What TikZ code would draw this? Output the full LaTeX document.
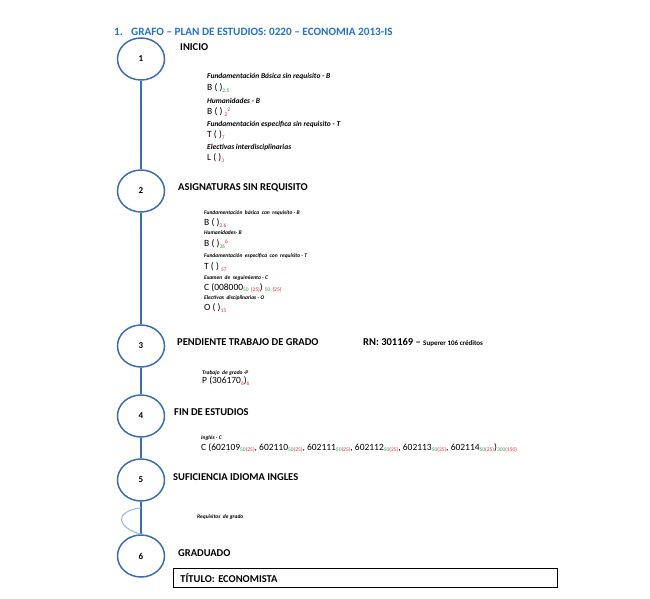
\documentclass[tikz,border=0pt]{standalone}
\usepackage{fontspec}
\setmainfont{Carlito}
\usepackage{xcolor}
\usetikzlibrary{shapes.geometric}
\definecolor{hitoColor}{HTML}{3C6DB4}
\definecolor{tituloColor}{HTML}{2272C8}
\definecolor{curvaColor}{HTML}{95B6E0}
\definecolor{subRed}{HTML}{E8262A}
\definecolor{subGreen}{HTML}{2EA043}
\newcommand{\rsub}[1]{\raisebox{-1.5pt}{\fontsize{5.5}{6}\selectfont\color{subRed}#1}}
\newcommand{\gsub}[1]{\raisebox{-1.5pt}{\fontsize{5.5}{6}\selectfont\color{subGreen}#1}}
\newcommand{\rsup}[1]{\raisebox{3pt}{\fontsize{5.5}{6}\selectfont\color{subRed}#1}}
\frenchspacing

\begin{document}
\begin{tikzpicture}[x=1pt, y=-1pt,
    hito/.style={draw=hitoColor, line width=1.5pt, ellipse, minimum width=47pt, minimum height=42pt, inner sep=0pt, font=\fontsize{9}{10}\selectfont\bfseries},
    linea/.style={hitoColor, line width=1.5pt},
    etapa/.style={anchor=west, inner sep=0pt, font=\fontsize{10.5}{12}\selectfont\bfseries},
    req/.style={anchor=west, inner sep=0pt, font=\fontsize{7.5}{9}\selectfont\bfseries\itshape},
    reqchico/.style={anchor=west, inner sep=0pt, font=\fontsize{5.5}{6}\selectfont\bfseries\itshape},
    cod/.style={anchor=west, inner sep=0pt, font=\fontsize{9.5}{11}\selectfont}]
    \useasboundingbox (0,0) rectangle (650,598);

    % titulo
    \node[anchor=west, inner sep=0pt, tituloColor, font=\fontsize{11.2}{13}\selectfont\bfseries] (num) at (114,32) {1.};
    \node[anchor=west, inner sep=0pt, tituloColor, font=\fontsize{11.2}{13}\selectfont\bfseries] (titulo) at (131,32) {GRAFO -- PLAN DE ESTUDIOS: 0220 -- ECONOMIA 2013-IS};

    % hitos
    \node[hito] (h1) at (141,59) {1};
    \node[hito] (h2) at (141,191) {2};
    \node[hito] (h3) at (141,346) {3};
    \node[hito] (h4) at (141,416) {4};
    \node[hito] (h5) at (141,480) {5};
    \node[hito] (h6) at (141,556) {6};
    \draw[linea] (h1) -- (h2);
    \draw[linea] (h2) -- (h3);
    \draw[linea] (h3) -- (h4);
    \draw[linea] (h4) -- (h5);
    \draw[linea] (h5) -- (h6);
    \draw[curvaColor, line width=1pt] ([yshift=-6pt]h5.south) .. controls (112,512) and (118,528) .. (h6.north);

    % 1
    \node[etapa] (inicio) at (180,47) {INICIO};
    \node[req] (r11) at (207,76) {Fundamentación Básica sin requisito - B};
    \node[cod] (c11) at (207,88) {B ( )\gsub{2.5}};
    \node[req] (r12) at (207,101) {Humanidades - B};
    \node[cod] (c12) at (207,112) {B ( ) \rsub{2}\rsup{2}};
    \node[req] (r13) at (207,124) {Fundamentación especifica sin requisito - T};
    \node[cod] (c13) at (207,135) {T ( )\rsub{7}};
    \node[req] (r14) at (207,147) {Electivas interdisciplinarias};
    \node[cod] (c14) at (207,158) {L ( )\rsub{3}};

    % 2
    \node[etapa] (sinreq) at (178,188) {ASIGNATURAS SIN REQUISITO};
    \node[reqchico] (r21) at (204,213) {Fundamentación \ básica \ con \ requisito - B};
    \node[cod] (c21) at (204,223) {B ( )\rsub{3.6}};
    \node[reqchico] (r22) at (204,233) {Humanidades- B};
    \node[cod] (c22) at (204,244) {B ( )\gsub{36}\rsup{6}};
    \node[reqchico] (r23) at (204,256) {Fundamentación \ especifica \ con \ requisito - T};
    \node[cod] (c23) at (204,267) {T ( ) \rsub{57}};
    \node[reqchico] (r24) at (204,278) {Examen \ de \ seguimiento - C};
    \node[cod] (c24) at (204,288) {C (008000\gsub{50} \rsub{(25)}) \gsub{50} \rsub{(25)}};
    \node[reqchico] (r25) at (204,298) {Electivas \ disciplinarias - O};
    \node[cod] (c25) at (204,308) {O ( )\rsub{15}};

    % 3
    \node[etapa] (pendiente) at (177,342) {PENDIENTE TRABAJO DE GRADO};
    \node[etapa] (rn) at (363,342) {RN: 301169 -- {\fontsize{7}{8}\selectfont Superer 106 créditos}};
    \node[reqchico] (r31) at (202,373) {Trabajo \ de grado -P};
    \node[cod] (c31) at (202,381) {P (306170\rsub{6})\rsub{6}};

    % 4
    \node[etapa] (fin) at (174,412) {FIN DE ESTUDIOS};
    \node[reqchico] (r41) at (201,438) {Inglés - C};
    \node[cod] (c41) at (201,448) {C (602109\gsub{50}\rsub{(25)}, 602110\gsub{50}\rsub{(25)}, 602111\gsub{50}\rsub{(25)}, 602112\gsub{50}\rsub{(25)}, 602113\gsub{50}\rsub{(25)}, 602114\gsub{50}\rsub{(25)})\gsub{300}\rsub{(150)}};

    % 5
    \node[etapa] (idioma) at (173,477) {SUFICIENCIA IDIOMA INGLES};
    \node[reqchico] (r51) at (197,517) {Requisitos \ de grado};

    % 6
    \node[etapa] (graduado) at (178,553) {GRADUADO};
    \node[draw, line width=0.9pt, anchor=north west, minimum width=384pt, minimum height=19pt, text width=370pt, inner xsep=7pt, align=left, font=\fontsize{10.5}{12}\selectfont\bfseries] (economista) at (173,568) {TÍTULO: ECONOMISTA};
\end{tikzpicture}
\end{document}
